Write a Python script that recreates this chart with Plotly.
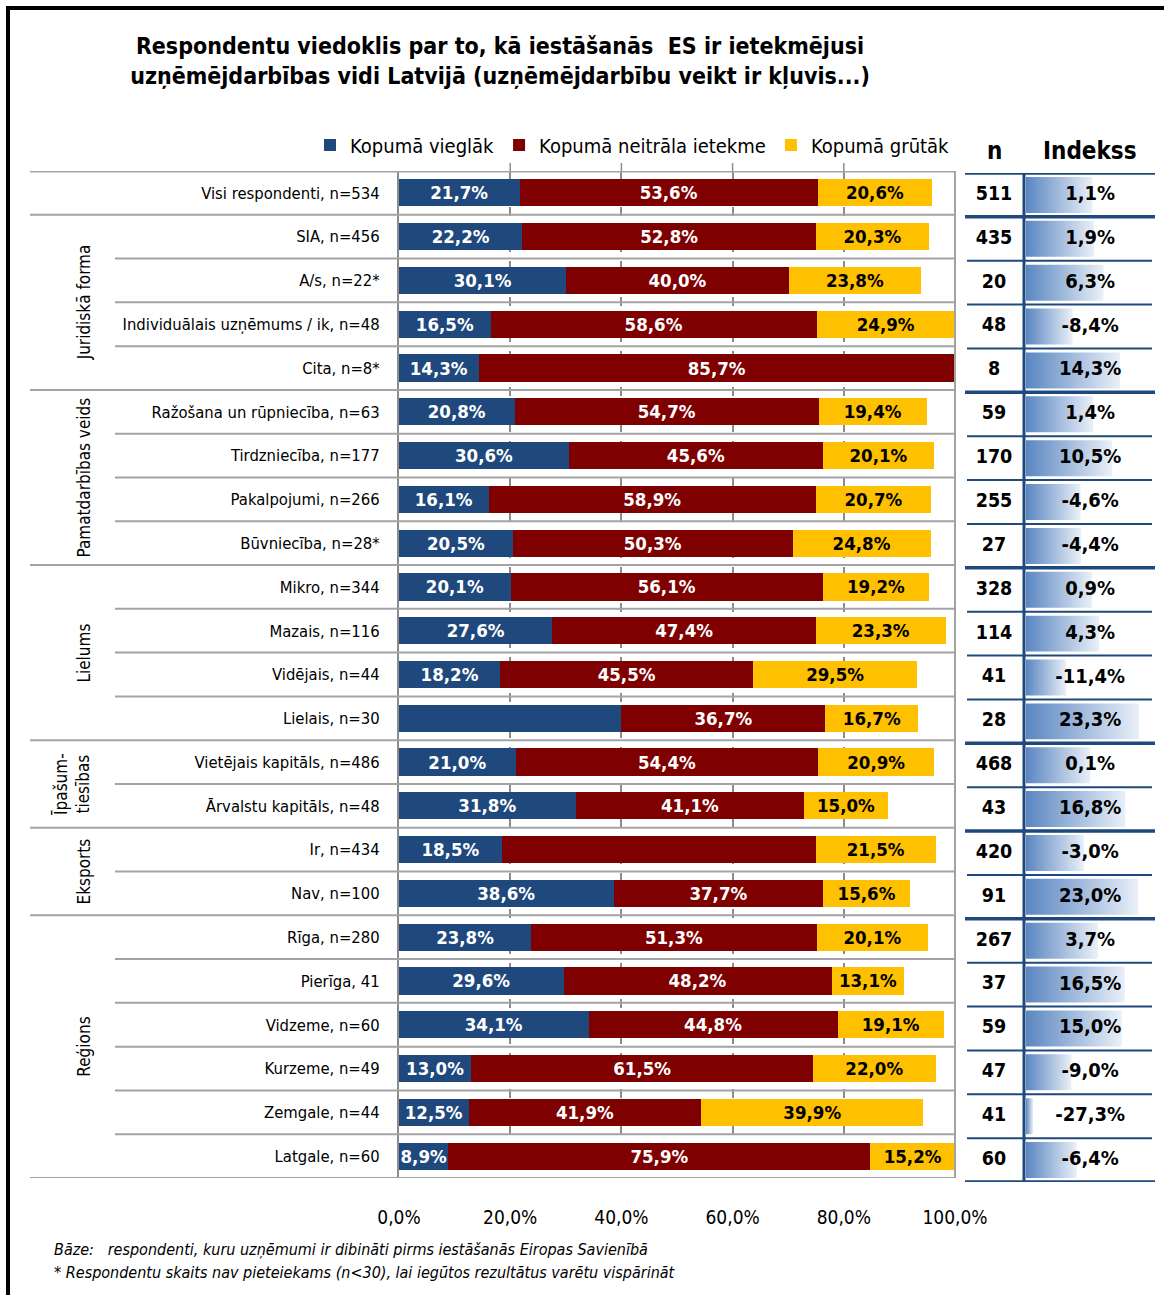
import plotly.graph_objects as go

W, H = 1164, 1295
def fx(px): return px / W
def fy(py): return 1 - py / H

FONT = "'Liberation Sans Narrow', 'Arial Narrow', 'DejaVu Sans Condensed', 'Liberation Sans', sans-serif"

categories = [
    "Visi respondenti, n=534",
    "SIA, n=456",
    "A/s, n=22*",
    "Individuālais uzņēmums / ik, n=48",
    "Cita, n=8*",
    "Ražošana un rūpniecība, n=63",
    "Tirdzniecība, n=177",
    "Pakalpojumi, n=266",
    "Būvniecība, n=28*",
    "Mikro, n=344",
    "Mazais, n=116",
    "Vidējais, n=44",
    "Lielais, n=30",
    "Vietējais kapitāls, n=486",
    "Ārvalstu kapitāls, n=48",
    "Ir, n=434",
    "Nav, n=100",
    "Rīga, n=280",
    "Pierīga, 41",
    "Vidzeme, n=60",
    "Kurzeme, n=49",
    "Zemgale, n=44",
    "Latgale, n=60",
]
easier = [21.7, 22.2, 30.1, 16.5, 14.3, 20.8, 30.6, 16.1, 20.5, 20.1, 27.6, 18.2, 40.0,
          21.0, 31.8, 18.5, 38.6, 23.8, 29.6, 34.1, 13.0, 12.5, 8.9]
neutral = [53.6, 52.8, 40.0, 58.6, 85.7, 54.7, 45.6, 58.9, 50.3, 56.1, 47.4, 45.5, 36.7,
           54.4, 41.1, 56.5, 37.7, 51.3, 48.2, 44.8, 61.5, 41.9, 75.9]
harder = [20.6, 20.3, 23.8, 24.9, 0.0, 19.4, 20.1, 20.7, 24.8, 19.2, 23.3, 29.5, 16.7,
          20.9, 15.0, 21.5, 15.6, 20.1, 13.1, 19.1, 22.0, 39.9, 15.2]
# labels not printed in the original chart
hidden_labels = {("easier", 12), ("neutral", 15)}

n_valid = [511, 435, 20, 48, 8, 59, 170, 255, 27, 328, 114, 41, 28, 468, 43, 420, 91,
           267, 37, 59, 47, 41, 60]
index_vals = [1.1, 1.9, 6.3, -8.4, 14.3, 1.4, 10.5, -4.6, -4.4, 0.9, 4.3, -11.4, 23.3,
              0.1, 16.8, -3.0, 23.0, 3.7, 16.5, 15.0, -9.0, -27.3, -6.4]

groups = [  # (label, first row, last row)
    ("Juridiskā forma", 1, 4),
    ("Pamatdarbības veids", 5, 8),
    ("Lielums", 9, 12),
    ("Īpašum-<br>tiesības", 13, 14),
    ("Eksports", 15, 16),
    ("Reģions", 17, 22),
]

series_names = ["Kopumā vieglāk", "Kopumā neitrāla ietekme", "Kopumā grūtāk"]
series_keys = ["easier", "neutral", "harder"]
series_colors = ["#1f497d", "#7f0000", "#ffc000"]
text_colors = ["white", "white", "black"]

x_ticks = [0, 20, 40, 60, 80, 100]
x_ticktext = ["0,0%", "20,0%", "40,0%", "60,0%", "80,0%", "100,0%"]

IDX_LO, IDX_HI = -30.64, 30.94


def fmt(v):
    return f"{v:.1f}%".replace(".", ",")


rows = list(range(len(categories)))
fig = go.Figure()

for key, name, col, tcol, vals in zip(series_keys, series_names, series_colors, text_colors,
                                      [easier, neutral, harder]):
    txt = ["" if (v == 0 or (key, i) in hidden_labels) else fmt(v) for i, v in enumerate(vals)]
    fig.add_trace(go.Bar(
        x=vals, y=rows, orientation="h", name=name, marker=dict(color=col, line=dict(width=0)),
        text=txt, textposition="inside", insidetextanchor="middle", textangle=0,
        textfont=dict(color=tcol, size=18.5, family=FONT, weight="bold"),
        constraintext="none", hoverinfo="skip", xaxis="x", yaxis="y",
    ))

# Index gradient bars
for i, v in enumerate(index_vals):
    h = 0.41
    fig.add_trace(go.Scatter(
        x=[IDX_LO, v, v, IDX_LO, IDX_LO], y=[i - h, i - h, i + h, i + h, i - h],
        mode="lines", line=dict(width=0), fill="toself",
        fillgradient=dict(type="horizontal", colorscale=[[0, "#5a86c1"], [1, "#eaf0f8"]]),
        showlegend=False, hoverinfo="skip", xaxis="x3", yaxis="y2",
    ))

# n column text
fig.add_trace(go.Scatter(
    x=[0.5] * len(n_valid), y=rows, mode="text", text=[str(n) for n in n_valid],
    textfont=dict(size=19.5, family=FONT, color="black", weight="bold"),
    showlegend=False, hoverinfo="skip", xaxis="x2", yaxis="y2",
))
# index text
fig.add_trace(go.Scatter(
    x=[0.0] * len(index_vals), y=rows, mode="text", text=[fmt(v) for v in index_vals],
    textfont=dict(size=20, family=FONT, color="black", weight="bold"),
    showlegend=False, hoverinfo="skip", xaxis="x3", yaxis="y2",
))

shapes = []
# outer frame
shapes.append(dict(type="line", xref="paper", yref="paper", x0=fx(6), x1=fx(1164), y0=fy(8), y1=fy(8),
                   line=dict(color="black", width=4)))
shapes.append(dict(type="line", xref="paper", yref="paper", x0=fx(8), x1=fx(8), y0=fy(6), y1=fy(1295),
                   line=dict(color="black", width=4)))

group_bounds = {0, 1, 5, 9, 13, 15, 17, 23}
for k in range(24):
    x0 = 30 if k in group_bounds else 115
    shapes.append(dict(type="line", xref="paper", yref="y", x0=fx(x0), x1=fx(956), y0=k - 0.5, y1=k - 0.5,
                       line=dict(color="#a3a3a3", width=3 if k == 0 else 2), layer="above"))
    wide = k in group_bounds
    shapes.append(dict(type="line", xref="paper", yref="y2", x0=fx(965 if wide else 967),
                       x1=fx(1155 if wide else 1152), y0=k - 0.5, y1=k - 0.5,
                       line=dict(color="#1f497d", width=3.5 if wide else 2), layer="above"))
# right border of bar area
shapes.append(dict(type="line", xref="paper", yref="y", x0=fx(955), x1=fx(955), y0=-0.5, y1=22.5,
                   line=dict(color="#a3a3a3", width=2)))
# table vertical line
shapes.append(dict(type="line", xref="paper", yref="y2", x0=fx(1024), x1=fx(1024), y0=-0.5, y1=22.5,
                   line=dict(color="#1f497d", width=3), layer="above"))
# small ticks above the top line
for t in x_ticks[1:-1]:
    shapes.append(dict(type="line", xref="x", yref="paper", x0=t, x1=t, y0=fy(171), y1=fy(163),
                       line=dict(color="#8c8c8c", width=1.5)))

annotations = []
for label, a, b in groups:
    two = "<br>" in label
    annotations.append(dict(
        text=label, xref="paper", yref="y", x=fx(72 if two else 84), y=(a + b) / 2,
        textangle=-90, showarrow=False, font=dict(size=17, family=FONT, color="black"),
        xanchor="center", yanchor="middle", align="center",
    ))
annotations.append(dict(text="n", xref="paper", yref="paper", x=fx(994), y=fy(151), showarrow=False,
                        xanchor="center", yanchor="middle",
                        font=dict(size=24, family=FONT, color="black", weight="bold")))
annotations.append(dict(text="Indekss", xref="paper", yref="paper", x=fx(1090), y=fy(151), showarrow=False,
                        xanchor="center", yanchor="middle",
                        font=dict(size=24, family=FONT, color="black", weight="bold")))
annotations.append(dict(
    text="<i>Bāze:   respondenti, kuru uzņēmumi ir dibināti pirms iestāšanās Eiropas Savienībā</i>",
    xref="paper", yref="paper", x=fx(52), y=fy(1249), xanchor="left", yanchor="middle", showarrow=False,
    font=dict(size=16, family=FONT, color="black")))
annotations.append(dict(
    text="<i>* Respondentu skaits nav pieteiekams (n<30), lai iegūtos rezultātus varētu vispārināt</i>",
    xref="paper", yref="paper", x=fx(52), y=fy(1272), xanchor="left", yanchor="middle", showarrow=False,
    font=dict(size=16, family=FONT, color="black")))

fig.update_layout(
    width=W, height=H, margin=dict(l=0, r=0, t=0, b=0, autoexpand=False), autosize=False,
    paper_bgcolor="white", plot_bgcolor="rgba(0,0,0,0)",
    barmode="stack", bargap=0.38,
    uniformtext=dict(minsize=18.5, mode="show"),
    font=dict(family=FONT, color="black"),
    title=dict(
        text="Respondentu viedoklis par to, kā iestāšanās  ES ir ietekmējusi<br>"
             "uzņēmējdarbības vidi Latvijā (uzņēmējdarbību veikt ir kļuvis...)",
        x=fx(500), xanchor="center", y=fy(54), yanchor="middle", automargin=False,
        font=dict(size=23, family=FONT, color="black", weight="bold"),
    ),
    legend=dict(orientation="h", x=fx(955), xanchor="right", y=fy(145), yanchor="middle",
                font=dict(size=20, family=FONT, color="black"), bgcolor="rgba(0,0,0,0)",
                itemwidth=30, tracegroupgap=0, traceorder="normal"),
    xaxis=dict(domain=[fx(399), fx(955)], range=[0, 100], tickvals=x_ticks, ticktext=x_ticktext,
               showgrid=True, gridcolor="#8c8c8c", griddash="dash", gridwidth=1.5, zeroline=False,
               showline=False, ticks="", ticklabelstandoff=26, automargin=False,
               tickfont=dict(size=19, family=FONT, color="black"), anchor="y", fixedrange=True),
    yaxis=dict(domain=[fy(1178), fy(171)], range=[22.5, -0.5], tickvals=rows, ticktext=categories,
               showgrid=False, zeroline=False, showline=True, linecolor="#8c8c8c", linewidth=2,
               ticks="", ticklabelstandoff=14, automargin=False,
               tickfont=dict(size=16.5, family=FONT, color="black"),
               anchor="x", fixedrange=True),
    xaxis2=dict(domain=[fx(965), fx(1023)], range=[0, 1], visible=False, anchor="y2", automargin=False),
    xaxis3=dict(domain=[fx(1026), fx(1155)], range=[IDX_LO, IDX_HI], visible=False, anchor="y2",
                automargin=False),
    yaxis2=dict(domain=[fy(1182), fy(173)], range=[22.5, -0.5], visible=False, anchor="x2",
                automargin=False),
    shapes=shapes, annotations=annotations,
)

fig.write_html("out.html", config={"displayModeBar": False},
               post_script="document.body.style.margin='0';document.body.style.overflow='hidden';")
